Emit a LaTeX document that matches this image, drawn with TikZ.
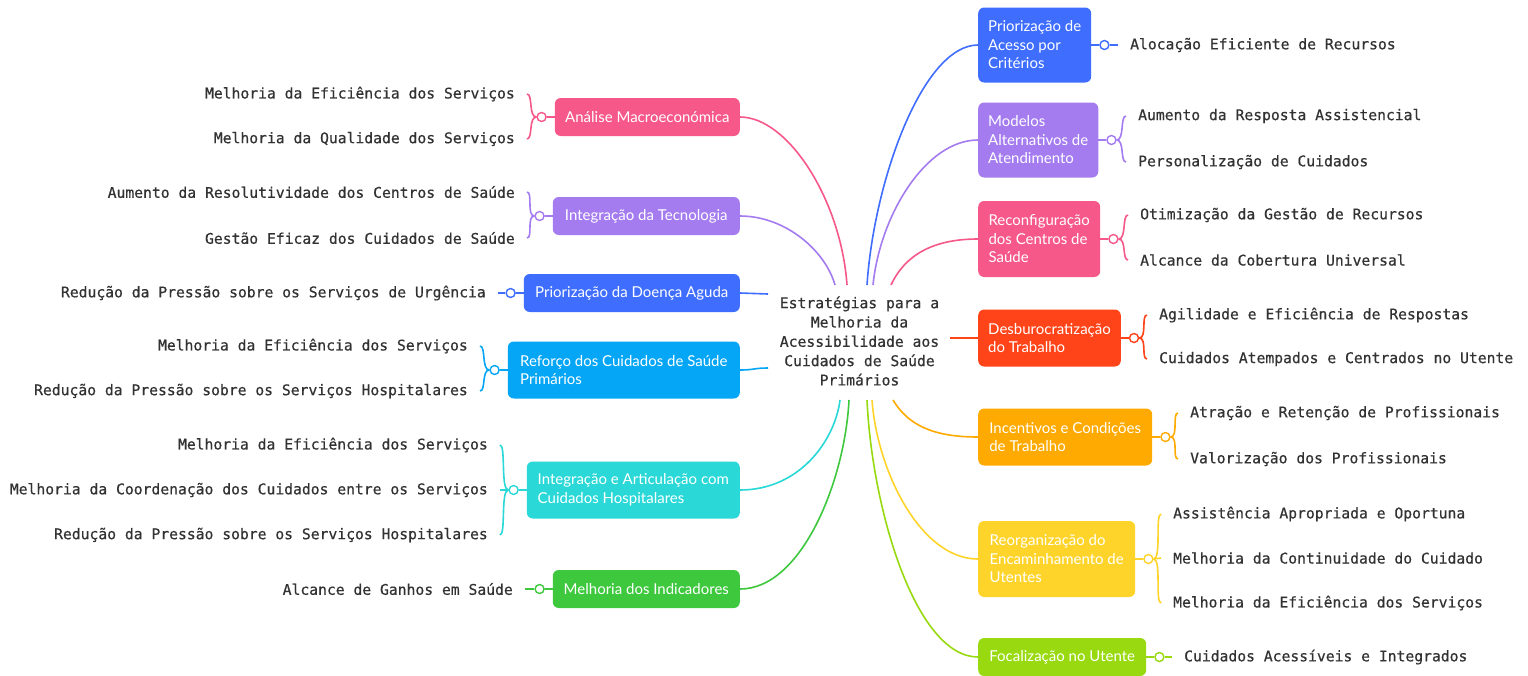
\documentclass[tikz,border=0pt]{standalone}
\usepackage{fontspec}
\setmainfont{Lato}
\newfontfamily\boxff{Lato}
\newfontfamily\monoff{DejaVu Sans Mono}[FakeBold=0.5]
\usetikzlibrary{calc}
\definecolor{cpink}{RGB}{246,88,138}
\definecolor{cpurple}{RGB}{164,124,240}
\definecolor{cblue}{RGB}{63,110,255}
\definecolor{csky}{RGB}{6,166,246}
\definecolor{ccyan}{RGB}{42,216,216}
\definecolor{cgreen}{RGB}{62,200,62}
\definecolor{cred}{RGB}{255,68,25}
\definecolor{corange}{RGB}{255,170,0}
\definecolor{cyellow}{RGB}{255,212,42}
\definecolor{clime}{RGB}{152,218,15}
\definecolor{leafgray}{RGB}{50,50,50}
\tikzset{
  box/.style={rounded corners=6, fill=#1, inner xsep=10, inner ysep=0, align=left,
    font=\boxff\fontsize{15}{18.5}\selectfont, text=white, minimum height=38},
  leafL/.style={font=\monoff\fontsize{14.7}{18}\selectfont, text=leafgray, inner xsep=12, inner ysep=0, anchor=east},
  leafR/.style={font=\monoff\fontsize{14.7}{18}\selectfont, text=leafgray, inner xsep=12, inner ysep=0, anchor=west},
  link/.style={line width=1.6, #1},
  jt/.style={circle, draw=#1, fill=white, line width=1.4, minimum size=9, inner sep=0},
}
\begin{document}
\begin{tikzpicture}[x=1pt,y=-1pt]
\useasboundingbox[fill=white] (0,0) rectangle (1528,675);

% centre
\node[font=\monoff\fontsize{14.7}{19.3}\selectfont, text=leafgray, align=center, inner sep=0] (C) at (859.5,341)
  {Estratégias para a\\Melhoria da\\Acessibilidade aos\\Cuidados de Saúde\\Primários};
\coordinate (cA) at (847,285);
\coordinate (cB) at (835,285);
\coordinate (cC) at (768,294);
\coordinate (cD) at (768,368);
\coordinate (cE) at (840,400);
\coordinate (cF) at (849,400);
\coordinate (cR1) at (867,285);
\coordinate (cR2) at (873,285);
\coordinate (cR3) at (891,285);
\coordinate (cR4) at (950,338);
\coordinate (cR5) at (893,400);
\coordinate (cR6) at (872,400);
\coordinate (cR7) at (867,400);

% left boxes
\node[box=cpink, minimum width=185, anchor=east] (A) at (740,117) {Análise Macroeconómica};
\node[box=cpurple, minimum width=187, anchor=east] (B) at (740,216) {Integração da Tecnologia};
\node[box=cblue, minimum width=216, anchor=east] (P) at (740,293) {Priorização da Doença Aguda};
\node[box=csky, minimum width=232, minimum height=57, anchor=east] (D) at (740,370) {Reforço dos Cuidados de Saúde\\Primários};
\node[box=ccyan, minimum width=213, minimum height=57, anchor=east] (E) at (740,490) {Integração e Articulação com\\Cuidados Hospitalares};
\node[box=cgreen, minimum width=187, anchor=east] (F) at (740,589) {Melhoria dos Indicadores};

% right boxes
\node[box=cblue, minimum width=112, minimum height=75, anchor=west] (R1) at (978,45) {Priorização de\\Acesso por\\Critérios};
\node[box=cpurple, minimum width=119, minimum height=75, anchor=west] (R2) at (978,140) {Modelos\\Alternativos de\\Atendimento};
\node[box=cpink, minimum width=122, minimum height=76, anchor=west] (R3) at (978,239) {Reconfiguração\\dos Centros de\\Saúde};
\node[box=cred, minimum width=142, minimum height=57, anchor=west] (R4) at (978,338) {Desburocratização\\do Trabalho};
\node[box=corange, minimum width=174, minimum height=57, anchor=west] (R5) at (978,437) {Incentivos e Condições\\de Trabalho};
\node[box=cyellow, minimum width=157, minimum height=76, anchor=west] (R6) at (978,559) {Reorganização do\\Encaminhamento de\\Utentes};
\node[box=clime, minimum width=168, anchor=west] (R7) at (978,657) {Focalização no Utente};

% main connectors
\draw[link=cpink] (A.east) .. controls +(48,0) and +(-6,-85) .. (cA);
\draw[link=cpurple] (B.east) .. controls +(45,0) and +(-10,-35) .. (cB);
\draw[link=cblue] (P.east) .. controls +(14,0) and +(-14,0) .. (cC);
\draw[link=csky] (D.east) .. controls +(14,0) and +(-14,0) .. (cD);
\draw[link=ccyan] (E.east) .. controls +(60,0) and +(-5,40) .. (cE);
\draw[link=cgreen] (F.east) .. controls +(62,0) and +(-4,80) .. (cF);
\draw[link=cblue] (R1.west) .. controls +(-55,0) and +(7,-105) .. (cR1);
\draw[link=cpurple] (R2.west) .. controls +(-52,0) and +(7,-70) .. (cR2);
\draw[link=cpink] (R3.west) .. controls +(-45,0) and +(14,-30) .. (cR3);
\draw[link=cred] (R4.west) -- (cR4);
\draw[link=corange] (R5.west) .. controls +(-45,0) and +(15,25) .. (cR5);
\draw[link=cyellow] (R6.west) .. controls +(-58,0) and +(5,70) .. (cR6);
\draw[link=clime] (R7.west) .. controls +(-62,0) and +(5,110) .. (cR7);

% joints
\node[jt=cpink] (Aj) at ($(A.west)+(-13,0)$) {};
\node[jt=cpurple] (Bj) at ($(B.west)+(-13,0)$) {};
\node[jt=cblue] (Pj) at ($(P.west)+(-13,0)$) {};
\node[jt=csky] (Dj) at ($(D.west)+(-13,0)$) {};
\node[jt=ccyan] (Ej) at ($(E.west)+(-13,0)$) {};
\node[jt=cgreen] (Fj) at ($(F.west)+(-13,0)$) {};
\node[jt=cblue] (R1j) at ($(R1.east)+(13,0)$) {};
\node[jt=cpurple] (R2j) at ($(R2.east)+(13,0)$) {};
\node[jt=cpink] (R3j) at ($(R3.east)+(13,0)$) {};
\node[jt=cred] (R4j) at ($(R4.east)+(13,0)$) {};
\node[jt=corange] (R5j) at ($(R5.east)+(13,0)$) {};
\node[jt=cyellow] (R6j) at ($(R6.east)+(13,0)$) {};
\node[jt=clime] (R7j) at ($(R7.east)+(13,0)$) {};

% left leaves
\node[leafL] (A1) at (527,94) {Melhoria da Eficiência dos Serviços};
\node[leafL] (A2) at (527,139) {Melhoria da Qualidade dos Serviços};
\node[leafL] (B1) at (527,192) {Aumento da Resolutividade dos Centros de Saúde};
\node[leafL] (B2) at (527,238) {Gestão Eficaz dos Cuidados de Saúde};
\node[leafL] (P1) at (498,293) {Redução da Pressão sobre os Serviços de Urgência};
\node[leafL] (D1) at (480,346) {Melhoria da Eficiência dos Serviços};
\node[leafL] (D2) at (480,391) {Redução da Pressão sobre os Serviços Hospitalares};
\node[leafL] (E1) at (500,445) {Melhoria da Eficiência dos Serviços};
\node[leafL] (E2) at (500,490) {Melhoria da Coordenação dos Cuidados entre os Serviços};
\node[leafL] (E3) at (500,535) {Redução da Pressão sobre os Serviços Hospitalares};
\node[leafL] (F1) at (525,589) {Alcance de Ganhos em Saúde};

% right leaves
\node[leafR] (R11) at (1118,45) {Alocação Eficiente de Recursos};
\node[leafR] (R21) at (1126,116) {Aumento da Resposta Assistencial};
\node[leafR] (R22) at (1126,162) {Personalização de Cuidados};
\node[leafR] (R31) at (1128,215) {Otimização da Gestão de Recursos};
\node[leafR] (R32) at (1128,260) {Alcance da Cobertura Universal};
\node[leafR] (R41) at (1147,315) {Agilidade e Eficiência de Respostas};
\node[leafR] (R42) at (1147,359) {Cuidados Atempados e Centrados no Utente};
\node[leafR] (R51) at (1178,413) {Atração e Retenção de Profissionais};
\node[leafR] (R52) at (1178,459) {Valorização dos Profissionais};
\node[leafR] (R61) at (1161,514) {Assistência Apropriada e Oportuna};
\node[leafR] (R62) at (1161,558) {Melhoria da Continuidade do Cuidado};
\node[leafR] (R63) at (1161,603) {Melhoria da Eficiência dos Serviços};
\node[leafR] (R71) at (1172,657) {Cuidados Acessíveis e Integrados};

% box-to-joint links
\foreach \b/\c in {A/cpink,B/cpurple,P/cblue,D/csky,E/ccyan,F/cgreen}
  \draw[link=\c] (\b.west) -- (\b j.east);
\foreach \b/\c in {R1/cblue,R2/cpurple,R3/cpink,R4/cred,R5/corange,R6/cyellow,R7/clime}
  \draw[link=\c] (\b.east) -- (\b j.west);

% brackets left
\draw[link=cpink] (Aj.west) .. controls +(-8,0) and +(6,0) .. (A1.east);
\draw[link=cpink] (Aj.west) .. controls +(-8,0) and +(6,0) .. (A2.east);
\draw[link=cpurple] (Bj.west) .. controls +(-8,0) and +(6,0) .. (B1.east);
\draw[link=cpurple] (Bj.west) .. controls +(-8,0) and +(6,0) .. (B2.east);
\draw[link=cblue] (Pj.west) -- (P1.east);
\draw[link=csky] (Dj.west) .. controls +(-8,0) and +(6,0) .. (D1.east);
\draw[link=csky] (Dj.west) .. controls +(-8,0) and +(6,0) .. (D2.east);
\draw[link=ccyan] (Ej.west) .. controls +(-8,0) and +(6,0) .. (E1.east);
\draw[link=ccyan] (Ej.west) -- (E2.east);
\draw[link=ccyan] (Ej.west) .. controls +(-8,0) and +(6,0) .. (E3.east);
\draw[link=cgreen] (Fj.west) -- (F1.east);

% brackets right
\draw[link=cblue] (R1j.east) -- (R11.west);
\draw[link=cpurple] (R2j.east) .. controls +(8,0) and +(-6,0) .. (R21.west);
\draw[link=cpurple] (R2j.east) .. controls +(8,0) and +(-6,0) .. (R22.west);
\draw[link=cpink] (R3j.east) .. controls +(8,0) and +(-6,0) .. (R31.west);
\draw[link=cpink] (R3j.east) .. controls +(8,0) and +(-6,0) .. (R32.west);
\draw[link=cred] (R4j.east) .. controls +(8,0) and +(-6,0) .. (R41.west);
\draw[link=cred] (R4j.east) .. controls +(8,0) and +(-6,0) .. (R42.west);
\draw[link=corange] (R5j.east) .. controls +(8,0) and +(-6,0) .. (R51.west);
\draw[link=corange] (R5j.east) .. controls +(8,0) and +(-6,0) .. (R52.west);
\draw[link=cyellow] (R6j.east) .. controls +(8,0) and +(-6,0) .. (R61.west);
\draw[link=cyellow] (R6j.east) -- (R62.west);
\draw[link=cyellow] (R6j.east) .. controls +(8,0) and +(-6,0) .. (R63.west);
\draw[link=clime] (R7j.east) -- (R71.west);
\end{tikzpicture}
\end{document}
